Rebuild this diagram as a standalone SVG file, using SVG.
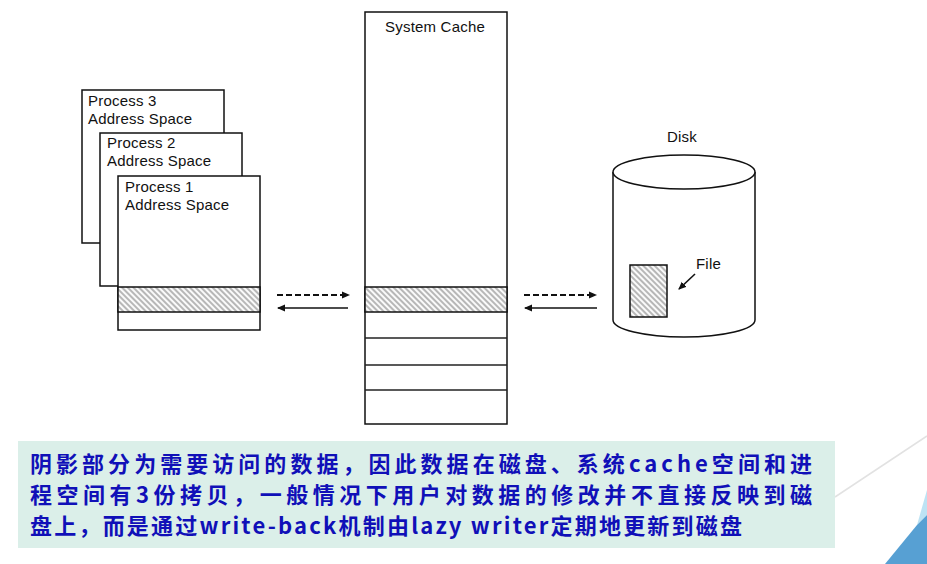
<svg xmlns="http://www.w3.org/2000/svg" width="927" height="564" viewBox="0 0 927 564">
<style>
.box{fill:#fff;stroke:#111;stroke-width:1.5}
.hatch{fill:url(#hatch);stroke:#111;stroke-width:1.5}
.row{stroke:#222;stroke-width:1.6;fill:none}
.lbl{font-family:"Liberation Sans",Arial,sans-serif;font-size:15px;fill:#111;letter-spacing:0.2px}
.cap{font-family:"Noto Sans CJK SC","Liberation Sans",sans-serif;font-size:22px;font-weight:bold;fill:#1010b8}
.dash{stroke:#111;stroke-width:2.2;stroke-dasharray:6 3;fill:none}
.solid{stroke:#111;stroke-width:1.6;fill:none}
</style>
<defs>
<pattern id="hatch" width="4" height="4" patternUnits="userSpaceOnUse" patternTransform="rotate(45)">
<rect width="4" height="4" fill="#fafafa"/>
<line x1="0" y1="1" x2="4" y2="1" stroke="#9a9a9a" stroke-width="1.4"/>
</pattern>
<marker id="ah" markerWidth="8" markerHeight="8" refX="7" refY="4" orient="auto" markerUnits="userSpaceOnUse">
<path d="M0,0.5 L8,4 L0,7.5 Z" fill="#111"/>
</marker>
</defs>
<rect width="927" height="564" fill="#fff"/>
<line x1="835" y1="497" x2="927" y2="436" stroke="#e2e2e2" stroke-width="1.5"/>
<polygon points="927,490 917,525 927,515" fill="#bde3f4"/>
<polygon points="917,525 927,515 927,564 885,564" fill="#57a0d3"/>

<g id="process3">
<rect class="box" x="82" y="90" width="142" height="153"/>
<text class="lbl" x="88" y="106">Process 3</text>
<text class="lbl" x="88" y="124">Address Space</text>
</g>
<g id="process2">
<rect class="box" x="100" y="133" width="142" height="153"/>
<text class="lbl" x="107" y="148">Process 2</text>
<text class="lbl" x="107" y="166">Address Space</text>
</g>
<g id="process1">
<rect class="box" x="118" y="176" width="142" height="154"/>
<rect class="hatch" x="118" y="287" width="142" height="25"/>
<text class="lbl" x="125" y="192">Process 1</text>
<text class="lbl" x="125" y="210">Address Space</text>
</g>

<g id="cache">
<rect class="box" x="365" y="12" width="142" height="412"/>
<rect class="hatch" x="365" y="287" width="142" height="25"/>
<line class="row" x1="365" y1="338" x2="507" y2="338"/>
<line class="row" x1="365" y1="365" x2="507" y2="365"/>
<line class="row" x1="365" y1="390" x2="507" y2="390"/>
<text class="lbl" x="435" y="32" text-anchor="middle">System Cache</text>
</g>

<g id="disk">
<path d="M613,172 L613,320 A71,17 0 0 0 755,320 L755,172" fill="#fff" stroke="#111" stroke-width="1.5"/>
<ellipse cx="684" cy="172" rx="71" ry="17" fill="#fff" stroke="#111" stroke-width="1.5"/>
<text class="lbl" x="667" y="142">Disk</text>
<rect class="hatch" x="630" y="265" width="37" height="52"/>
<text class="lbl" x="696" y="269">File</text>
<line x1="695" y1="274" x2="679" y2="289" stroke="#111" stroke-width="1.6" marker-end="url(#ah)"/>
</g>

<g id="connectors">
<line class="dash" x1="277" y1="295" x2="349" y2="295" marker-end="url(#ah)"/>
<line class="solid" x1="348" y1="308" x2="278" y2="308" marker-end="url(#ah)"/>
<line class="dash" x1="524" y1="295" x2="596" y2="295" marker-end="url(#ah)"/>
<line class="solid" x1="597" y1="308" x2="525" y2="308" marker-end="url(#ah)"/>
</g>

<g id="note">
<rect x="18" y="441" width="817" height="107" fill="#dbefe9"/>
<text class="cap" x="30" y="472" textLength="782" lengthAdjust="spacing">阴影部分为需要访问的数据，因此数据在磁盘、系统cache空间和进</text>
<text class="cap" x="30" y="503" textLength="782" lengthAdjust="spacing">程空间有3份拷贝，一般情况下用户对数据的修改并不直接反映到磁</text>
<text class="cap" x="30" y="534" textLength="712" lengthAdjust="spacing">盘上，而是通过write-back机制由lazy writer定期地更新到磁盘</text>
</g>
</svg>
